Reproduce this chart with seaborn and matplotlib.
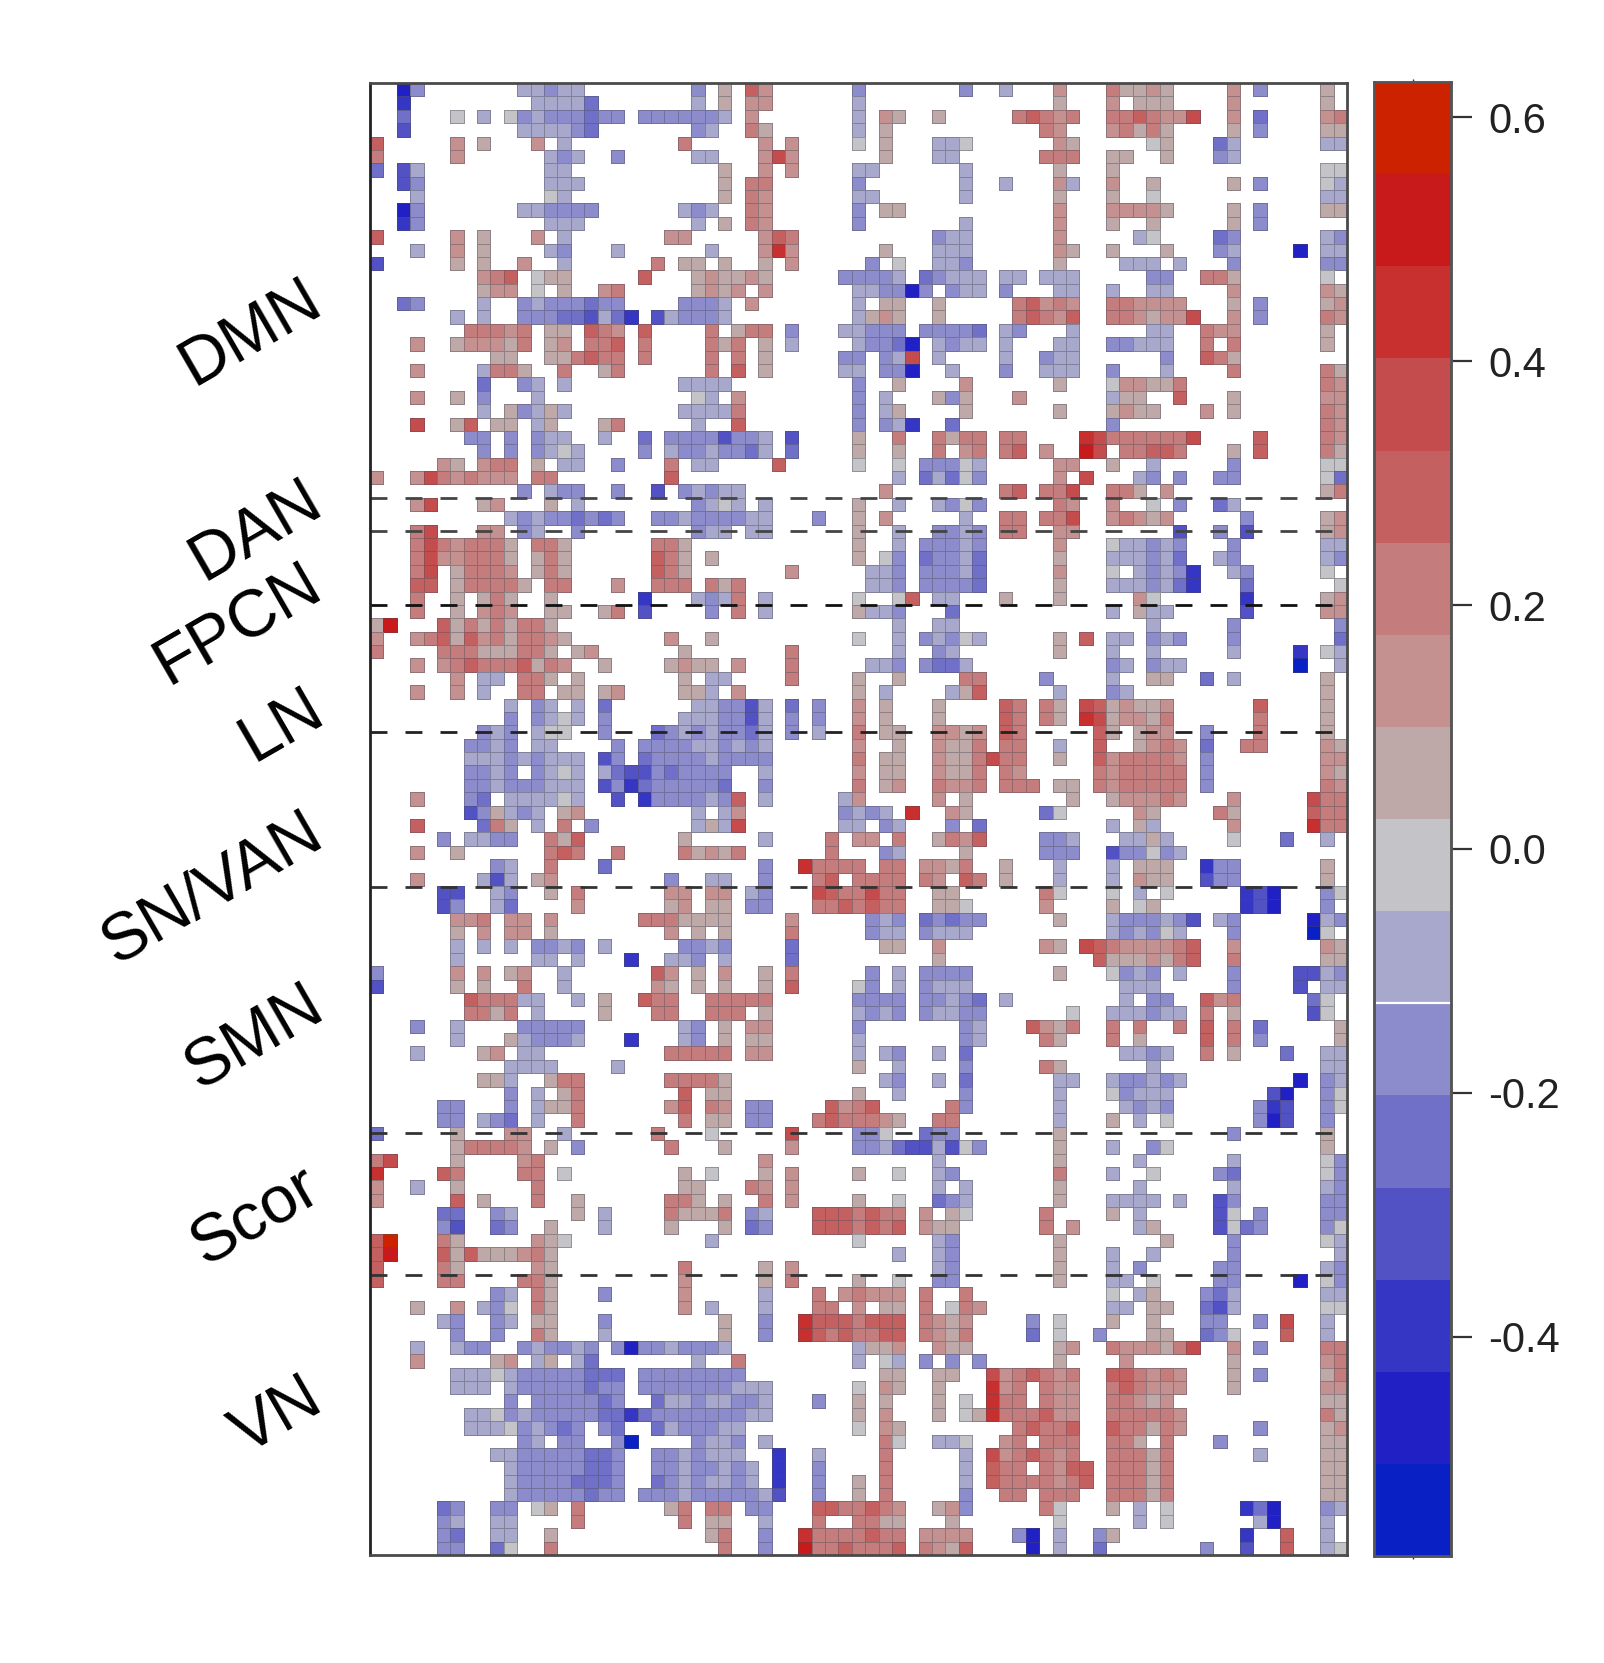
import numpy as np
import pandas as pd
import matplotlib
matplotlib.use("Agg")
import matplotlib.pyplot as plt
from matplotlib.colors import ListedColormap
import seaborn as sns

# colour bands of the key, lowest value first
level_colors = ["#0820C4", "#2020C4", "#3636C4", "#5252C4", "#7070C8", "#8C8CCC", "#A8A8CC", "#C4C4C8",
                "#BEA8A8", "#C49090", "#C47C7C", "#C46060", "#C44C4C", "#C83030", "#C81A1A", "#CC2200"]
vmin, vmax = -0.58, 0.629
bar_ticks = [0.6, 0.4, 0.2, 0.0, -0.2, -0.4]
n_cols = 73

# one string per row: "first_column:band_codes", blank cells left out
cell_rows = [
    "2:15 11:66566 24:5 26:8 28:b9 36:5 44:5 47:6 51:9 55:a8898 64:9 66:5 71:8",
    "2:2 12:66664 24:6 26:8 28:99 36:6 51:8 55:9 57:888 64:9 71:8",
    "2:4 6:7 8:6 10:756555455 20:5555556 28:9 36:6 38:98 42:8 48:aba9a 55:aaba99c 64:9 66:4 71:9a",
    "2:3 11:666654 24:56 28:a8 36:6 38:8 50:a9 55:9a8a8 64:8 66:5 71:88",
    "0:b 6:9 8:8 12:9 14:6 23:a 29:9 31:9 36:7 38:8 42:667 51:98 58:78 63:46 71:66",
    "0:a 6:9 13:656 18:5 24:66 29:9c9 38:8 42:66 50:aaa 55:88 59:8 63:56",
    "0:4 2:36 13:66 26:8 29:9 31:9 36:66 44:6 51:8 55:8 71:77",
    "2:35 13:666 26:8 28:aa 36:5 44:6 47:6 51:96 55:9 58:8 64:8 66:5 71:76",
    "3:6 13:76 26:8 28:a9 36:66 44:6 51:8 55:8 58:7 71:66",
    "2:15 11:665555 23:656 28:a9 36:5 38:88 51:9 55:99998 64:8 66:5 71:88",
    "2:25 13:666 24:6 26:8 28:a9 36:5 44:6 51:9 55:8 58:8 64:8 66:5",
    "0:b 6:9 8:8 12:9 14:6 22:99 29:9ba 42:566 51:9 57:67 63:45 71:65",
    "3:6 6:9 8:8 13:65 18:6 25:6 29:9d9 38:8 42:666 51:98 55:8 59:8 63:56 69:1 71:66",
    "0:3 6:8 8:8 11:9 14:6 21:a 23:88 26:8 29:8 31:9 37:5 39:7 42:665 51:8 56:666 60:6 64:5 71:55",
    "8:9ab 12:788 20:b 24:898898 35:55 37:556 41:45666 47:66 50:666 58:55 62:aa8 71:7",
    "8:899 12:7 14:8 17:9a 24:8989 29:9 36:665515 43:566 47:5 51:66 55:6 58:66 64:9 71:98",
    "2:45 8:6 11:56555455 23:5556 28:9 36:6 38:88 42:8 48:ab9a9 55:aa9999 64:8 66:5 71:89",
    "6:6 8:6 11:555443642 21:365556 36:6898 42:8 48:aba9b 55:aa9899c 64:9 66:5 71:a9",
    "7:aaa9a 13:88 16:ba9 20:b 25:a 27:8aa 31:5 35:66 37:555 41:55554 47:65 52:6 58:66 62:a99 71:8",
    "3:9 6:89998a 13:89 16:aab 20:a 25:a8a 29:8 31:6 36:6 37:5541 42:6566 47:6 51:66 55:55666 62:a 64:a 71:8",
    "9:88 13:88abaa 20:a 25:a 27:a 29:8 35:55 38:56c 42:6 47:6 50:566 59:5 62:ba8",
    "3:9 8:6aa8 14:a 17:8a 25:a 27:b 29:8 35:66 38:551 43:6 47:5 50:666 55:5 59:6 64:a 71:a8",
    "8:4 11:56 14:6 23:6666 36:5 39:8 44:9 51:8 55:79988a 71:a9",
    "3:9 6:8 8:5 12:6 24:76 27:9 36:5 38:6 42:858 48:9 55:688 60:b 64:8 71:99",
    "8:6 10:85686 23:6666a 36:5 38:68 44:8 51:8 55:8988 62:9 64:8 71:a9",
    "3:c 6:8b 9:88 12:68 17:8a 24:6 27:b 36:5 38:562 43:4 55:5 71:a9",
    "7:55 10:5 12:566 17:6 20:4 22:55553556 31:3 36:8 39:a 42:a8aa 47:aa 53:dcaaaaaac 66:b 71:a9",
    "8:5 10:5 12:5676 20:5 22:65565546 31:4 36:8 39:8 42:a 44:9a 47:ab 50:9 53:ec 56:aabba 64:8 66:b 71:a8",
    "5:98 8:9aa 12:8 14:66 18:5 22:a 24:66 30:b 36:7 39:7 41:55576 51:99 55:8 58:6 64:5 71:77",
    "0:9 3:9ca9a999 12:aa 22:b 39:6 41:46475 51:9 53:c 57:65 60:5 63:55 71:74",
    "11:5 13:655 18:5 21:3 23:56566 38:9 47:ab 50:aac 55:aa8 59:9 71:8a",
    "3:9c 8:89 13:8 15:6 24:5676 29:6 36:8 39:6 42:6575 51:a9 55:9 58:7 60:5 63:46",
    "10:656554545 21:556555566 33:5 36:8 38:9 44:6 47:aa 50:aac 55:9a989 65:5 71:89",
    "3:ac 8:99 11:56 15:5 24:566 28:66 36:8 39:6 42:5565 47:aa 51:99 60:3 63:5 65:3 71:89",
    "3:aca9aaa8 12:aa8 21:aa8 36:8 39:6 41:55565 51:9 55:766565 64:5 71:66",
    "3:ac99aaa8 12:8a8 21:ba8 25:8 36:8 38:75 41:45564 51:8 55:666564 63:65 71:65",
    "3:ac 6:8aaa9 12:8a8 21:ba8 31:9 37:665 41:55564 51:9 55:7 57:65652 64:65 71:7",
    "3:bb 6:8aaaa8 13:aa 18:9 21:aaa 25:a8a 37:665 41:55554 51:8 55:6665642 65:4 72:7",
    "3:a 6:8 8:8a8 13:8 20:2 24:656a 29:6 36:7 39:7b 42:66 47:8 51:8 57:97 65:2 71:89",
    "3:a 6:8 8:9a9 13:88 17:8a 20:3 25:5 27:a 29:6 36:8 37:665 43:4 55:6 57:866 65:3 71:99",
    "0:8e 5:b8a8a8aa8 39:6 42:66 58:6 64:5 72:5",
    "0:9 3:9ab8b9a8aa98 22:9 25:8 36:7 39:6 41:56576 51:8 53:b 55:66 58:565 64:5 72:4",
    "0:a 5:aaa888aa8 15:89 23:8 31:a 39:6 42:56 51:8 55:6 58:6 64:6 69:2 71:76",
    "3:9 5:9abaaab8a9 17:8 22:8988 27:9 31:a 37:665 41:5446 55:56 58:566 69:0 72:6",
    "6:9 8:66 11:aa8 15:8 23:8 25:66 31:a 36:8 39:8 44:aa 50:5 55:6 58:88 62:4 64:6 71:8",
    "3:9 6:9 8:6 11:aa 14:88 17:89 23:88 25:6 27:9 36:8 38:6 43:68b 51:6 55:56 71:8",
    "10:6 12:56 15:6 17:4 24:665536 31:4 33:5 36:9 38:8 42:8 47:ba 50:a8 53:cb89889 66:b 71:8",
    "10:5 12:5676 17:5 23:6665536 31:5 33:5 36:9 38:8 42:8 47:ba 50:a8 53:dc8998a 66:a 71:8",
    "8:565 12:677 17:5 21:456565546 31:5 33:6 36:a 38:88 42:9989 47:ba 54:b8 57:899 62:5 66:a 71:8",
    "7:5565 12:66 18:5 20:5555665656 36:9 39:8 42:988a 47:aa 51:6 54:b 57:89a9 62:4 65:aa 71:98",
    "7:666565666 17:35 20:4555565555 36:a 38:88 42:988acaa 51:8 54:b9aaaa9 62:5 71:99",
    "7:5565 12:5676 17:6433545555 29:6 36:9 38:88 42:988a 47:a9 54:a9aaaaa 62:5 71:98",
    "7:556555666 17:3524555554 29:5 36:a 38:89 42:a99a 47:aaa 51:88 54:a9aaaaa 62:5 71:a9",
    "3:9 7:54 10:666676 18:3 20:2555565b 29:6 35:69 42:9 44:8 52:8 55:8999a9 64:9 70:caa",
    "7:358656 14:89 24:6 26:69 35:5656 40:d 43:98 50:47 57:98 63:a8 70:baa",
    "3:b 8:4a8 12:6 14:a 16:5 24:686c 35:66 38:56 43:5 45:4 55:6 57:86 64:9 70:daa",
    "5:5 7:6655 13:a8b 23:8 29:6 34:a 36:99 39:a 42:8a9b 50:556 56:6686 64:7 68:4 71:6",
    "3:9 6:8 13:aba 18:a 23:a898a 34:a 38:56 44:8 50:555 55:355756",
    "9:56 13:a 17:4 29:5 32:daaaa 38:aa 41:998a 47:8 51:6 55:6 57:888 62:255 71:8",
    "3:9 8:636 12:89 22:5 25:66 29:5 33:ab 36:aa 38:aa 41:a9 44:ba 47:8 51:6 55:6 57:988 62:355 71:8",
    "5:33 9:65 13:8 15:a 22:99 25:99 28:65 33:cbaacaa 42:88 50:a7 55:7 57:6 59:7 65:231 71:57",
    "5:35 9:64 15:9 22:89 25:88 28:55 33:aababaa 42:887 50:9 55:8 57:78 65:231 71:5",
    "6:99a 10:99 13:9 20:aaa8888 31:9 37:565 41:45455 51:8 55:6555653 63:65 70:165",
    "6:8 8:9 10:99 13:8 22:9 24:8 26:8 31:a 37:566 41:5666 55:656576 64:5 70:07",
    "6:6 8:6 10:6 12:5565 17:6 23:5565 31:4 38:88 42:9 50:98 53:cba9999ab 64:9 71:98",
    "6:6 12:66 15:6 19:2 22:665 26:6 31:4 42:8 54:b88898ab 64:a 71:88",
    "0:5 6:9 8:9 10:89 14:6 21:b9 24:8 26:9 29:8 31:a 37:5 39:6 41:5555 51:8 55:7565 60:6 64:5 69:3365",
    "0:3 6:8 8:8 11:a 14:6 21:98 24:8 26:8 29:8 31:b 36:75 39:6 41:5666 56:666 64:5 69:3 71:66",
    "7:baaa66 15:6 17:8 20:baa 25:aaaaa 36:5555 41:55654 47:6 56:6 58:55 62:b9a 70:47",
    "7:aa8a 12:6 17:8 21:aa 25:aaa 29:8 36:6565 41:56655 52:7 55:666566 62:a 64:8 70:37",
    "3:5 6:6 11:55555 23:65 26:8 28:99 36:5 44:56 49:b98a 55:a 57:a 60:a 62:b 64:a 66:4 72:8",
    "6:6 10:865556 19:2 23:65 26:8 28:88 36:6 44:56 50:a8 55:a 57:8 62:b 64:a 66:5 72:8",
    "3:6 8:89 11:66 22:aaaaa 28:99 36:6 38:65 42:6 44:4 56:6656 62:a 64:8 68:4 71:66",
    "10:6666 18:6 36:8 39:6 44:5 50:a8 58:6 71:66",
    "8:886 13:8aa 22:aaaa8 38:65 42:6 44:4 51:66 55:655656 69:1 71:56",
    "10:5 12:6 14:8a 23:b 25:88 36:8 39:6 44:5 51:6 55:75666 67:31 71:57",
    "5:55 10:5 12:688a 22:9b 25:a9 28:55 34:b9ab 43:a5 51:6 56:6565 66:523 71:57",
    "5:55 8:654 12:6 15:a 23:a 25:88 28:55 33:abaaa98 42:aa 51:6 55:8 57:6 59:7 66:513 71:5",
    "0:4 6:8 10:99 14:6 21:a 25:7 31:c 36:557 41:455 51:8 64:5 71:8",
    "6:8aaaa9 13:8 15:5 22:a 26:8 31:9 36:5564336375 51:8 55:6 58:57 71:8",
    "0:ac 6:8 11:9a 29:9 42:6 51:8 57:6 64:6 71:75",
    "0:d 5:ba 11:aa 14:7 23:8 25:7 29:8 31:9 36:8 39:7 42:65 51:a 55:6 58:7 63:54 71:75",
    "0:9 3:6 6:8 12:a 23:88 28:a9 31:9 42:6 44:6 51:8 57:6 64:6 71:65",
    "0:9 6:b 8:8 12:a 15:8 22:aa8 26:8 29:a 31:9 36:8 39:7 42:456 51:8 55:6666 60:6 63:35 71:55",
    "5:44 9:56 15:8 17:6 22:a888a 28:56 33:bbbabaa 41:9 43:87 50:a 55:8 57:6 63:37 66:5 71:55",
    "5:53 9:45 13:8 17:6 22:8 26:8 28:45 33:bbbabab 41:988 50:a 52:9 57:68 63:3745 71:57",
    "0:bf 5:a8 12:987 25:6 36:7 42:65 51:8 59:8 64:5 71:76",
    "0:be 5:b8b8889a8 39:6 42:65 51:8 55:6 58:6 64:5 72:6",
    "0:b 5:a8 12:98 23:a 29:8 31:9 42:65 51:8 55:6 57:5 63:55 71:65",
    "0:b 5:aa 11:aa8 23:9 29:8 31:a 36:8 39:7 42:55 51:8 55:66 58:7 63:55 69:1 71:75",
    "9:56 12:a8 17:5 23:9 29:6 33:a 35:9a999 41:a 44:a 55:7 57:68 62:546 71:66",
    "3:8 6:9 8:657 12:a8 23:9 25:6 29:6 33:aa 36:9 38:88 41:a 43:7a9 55:66 58:88 62:436 71:77",
    "5:65 9:56 12:88 17:5 26:8 29:5 32:dbbbabbb 41:a989 49:5 51:7 55:8 58:8 62:55 66:5 68:c 71:6",
    "6:5 9:5 12:a8 17:6 26:8 29:5 32:dbabaabb 41:a98a 49:4 51:7 54:5 58:88 62:457 68:b 71:6",
    "3:6 6:655 11:565565 18:515565556 36:6889 42:988 51:89 55:a9998ac 64:9 66:5 71:aa",
    "3:9 9:89 12:68 15:64 24:6 27:a 36:6 38:76 41:5 43:5 45:5 51:8 56:9 64:8 71:9a",
    "6:6667655555444 20:55555555 38:88 42:88 46:c9aba9a 55:bba9a9 64:8 66:5 71:8a",
    "6:666 10:655555455 20:5555555666 36:7 38:98 42:8 46:d9a 50:a99 55:aba999 64:8 71:99",
    "10:5 12:5555545 21:466566556 33:5 36:8 38:8 42:8 44:7 46:daa 50:a99 55:aa989 71:88",
    "7:66756555554424555555566 36:8 38:9 42:8 44:78daaab99 55:aaaaa9 71:a8",
    "7:666756545 17:54 21:4655566 36:7 38:98 48:abaab 55:baa8a9 66:5 71:89",
    "11:56 14:55 18:50 24:5665 29:6 38:a7 42:667 47:9a 50:aaa 55:aa8 59:a 63:5 71:88",
    "9:6655555445 21:5565666 30:2 33:6 38:a 44:6 46:c9aba9a 55:aaa8a 66:6 71:88",
    "10:655555445 21:55655656 30:2 33:5 38:a 44:6 46:baa 50:a9bb 55:aaa8a 71:88",
    "10:655554445 21:45656656 30:2 33:5 36:8 38:a 44:6 46:baaaa9ab 55:aaa8a 71:88",
    "10:655555455 20:5556555556 30:3 33:5 36:8 38:a 44:5 47:aa 50:aaa 55:aaa8a 71:88",
    "5:45 9:55 12:78 15:a 22:8a 25:aa 28:55 33:bbaaba9 42:895 50:a7 55:8 57:6 59:7 65:241 71:56",
    "5:56 9:66 15:a 23:a 25:88 29:6 33:a 36:aa88 43:8 51:7 57:6 59:7 66:61 71:6",
    "5:54 9:66 13:8 25:8a 29:5 32:daaaabaa 41:9999 48:51 51:6 54:58 65:2 68:b 71:6",
    "5:55 9:47 13:a 26:a 29:5 32:eaabaaab 41:a98b 49:1 51:6 54:4 62:5 65:3 68:b 71:67",
]

# network names and the rows where the dashed separators fall
net_labels = ["DMN", "DAN", "FPCN", "LN", "SN/VAN", "SMN", "Scor", "VN"]
label_x = [251, 256, 238, 282, 212, 254, 256, 277]
label_y = [333, 531, 625, 726, 890, 1039, 1218, 1417]
split_rows = [31.0, 33.5, 39.0, 48.5, 60.1, 78.5, 89.1]
split_greys = ["#444444", "#444444", "#111111", "#222222", "#333333", "#333333", "#333333"]

W, H = 1604, 1663


def decode_rows(rows):
    step = (vmax - vmin) / len(level_colors)
    grid = np.full((len(rows), n_cols), np.nan)
    for i, row in enumerate(rows):
        for part in row.split():
            start, codes = part.split(":")
            for j, code in enumerate(codes):
                grid[i, int(start) + j] = vmin + (int(code, 16) + 0.5) * step
    return pd.DataFrame(grid)


def main():
    sns.set_theme(style="white")
    plt.rcParams["font.family"] = ["Liberation Sans", "DejaVu Sans"]

    df = decode_rows(cell_rows)
    step = (vmax - vmin) / len(level_colors)

    fig = plt.figure(figsize=(W / 100, H / 100), dpi=100)
    ax = fig.add_axes([370 / W, 1 - 1555 / H, 977 / W, 1472 / H])
    cax = fig.add_axes([1374 / W, 1 - 1556 / H, 77 / W, 1474 / H])

    sns.heatmap(df, ax=ax, cbar_ax=cax, cmap=ListedColormap(level_colors), vmin=vmin, vmax=vmax,
                linewidths=0.6, linecolor="#404048", xticklabels=False, yticklabels=False)

    # pcolormesh would outline the blank cells too, so those edges go transparent
    mesh = ax.collections[0]
    edges = np.tile((0.3, 0.3, 0.35, 0.42), (df.size, 1))
    edges[np.isnan(df.values).ravel(), 3] = 0
    mesh.set_edgecolor(edges)

    for row, grey in zip(split_rows, split_greys):
        ax.axhline(row, color=grey, lw=2.0, linestyle=(0, (6.1, 6.5)))

    for side in ax.spines.values():
        side.set_visible(True)
        side.set_color("#4a4a4a")
        side.set_linewidth(2.0)
    ax.spines["left"].set_color("#222222")

    cax.set_yticks(bar_ticks)
    cax.set_yticklabels([f"{t:.1f}" for t in bar_ticks], fontsize=30, color="#222222")
    cax.tick_params(axis="y", length=15, width=1.6, color="#333333", pad=12, right=True, left=False)
    cax.set_xticks([0.5])
    cax.set_xticklabels([])
    cax.tick_params(axis="x", length=2, width=1, top=True, bottom=True, color="#333333")
    cax.axhline(vmin + 6 * step, color="white", lw=1.6)
    for side in cax.spines.values():
        side.set_visible(True)
        side.set_color("#555555")
        side.set_linewidth(1.8)

    for name, x, y in zip(net_labels, label_x, label_y):
        fig.text(x / W, 1 - y / H, name, rotation=30, ha="center", va="center", fontsize=48,
                 rotation_mode="anchor", color="black")

    fig.savefig("out.png", dpi=100)


if __name__ == "__main__":
    main()
